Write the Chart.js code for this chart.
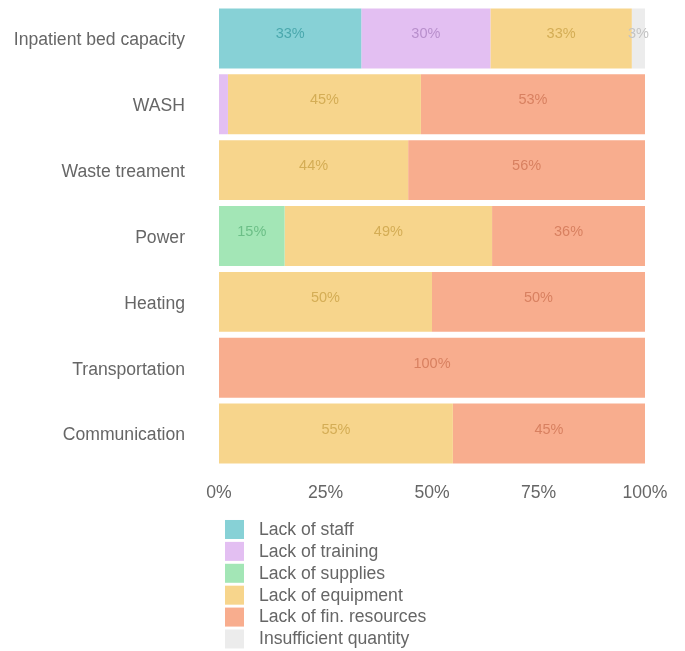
<!DOCTYPE html>
<html>
<head>
<meta charset="utf-8">
<script src="https://cdn.jsdelivr.net/npm/chart.js@4/dist/chart.umd.min.js"></script>
<style>
  html, body { margin: 0; padding: 0; background: #fff; }
  #wrap { width: 685px; height: 651px; }
</style>
</head>
<body>
<div id="wrap"><canvas id="chart"></canvas></div>
<script>
// categories (rows) and tick labels
const categories = ['Inpatient bed capacity', 'WASH', 'Waste treament', 'Power', 'Heating', 'Transportation', 'Communication'];
const xTicks = [0, 25, 50, 75, 100];

// series values, in percent, one per row (labels show them rounded)
const lackOfStaff      = [33.4, 0, 0, 0, 0, 0, 0];
const lackOfTraining   = [30.3, 2.1, 0, 0, 0, 0, 0];
const lackOfSupplies   = [0, 0, 0, 15.4, 0, 0, 0];
const lackOfEquipment  = [33.2, 45.3, 44.4, 48.7, 50, 0, 54.9];
const lackOfFinRes     = [0, 52.6, 55.6, 35.9, 50, 100, 45.1];
const insufficientQty  = [3.1, 0, 0, 0, 0, 0, 0];

const seriesNames = ['Lack of staff', 'Lack of training', 'Lack of supplies', 'Lack of equipment', 'Lack of fin. resources', 'Insufficient quantity'];
const seriesData = [lackOfStaff, lackOfTraining, lackOfSupplies, lackOfEquipment, lackOfFinRes, insufficientQty];
const fillColors = ['#87d1d6', '#e3bff2', '#a3e6b6', '#f7d58c', '#f8ad8e', '#ececec'];
const labelColors = ['#4aa8ad', '#b88fcc', '#6cbf87', '#d4ad55', '#d88060', '#c4c4c4'];

const FONT = '"Liberation Sans", Arial, Helvetica, sans-serif';
const GREY = '#666666';
const TXT = 17.6;

// write the value inside each segment (no datalabels plugin offline)
const segmentLabels = {
  id: 'segmentLabels',
  afterDatasetsDraw(chart) {
    const ctx = chart.ctx;
    ctx.save();
    ctx.font = '14.5px ' + FONT;
    ctx.textAlign = 'center';
    ctx.textBaseline = 'middle';
    chart.data.datasets.forEach((ds, i) => {
      const meta = chart.getDatasetMeta(i);
      meta.data.forEach((bar, j) => {
        const v = ds.data[j];
        if (!v || v < 2.5) return;
        const cx = (bar.x + bar.base) / 2;
        ctx.fillStyle = labelColors[i];
        ctx.fillText(Math.round(v) + '%', cx, bar.y - 4);
      });
    });
    ctx.restore();
  }
};

// vertical legend under the x axis
const listLegend = {
  id: 'listLegend',
  afterDraw(chart) {
    const ctx = chart.ctx;
    const x0 = chart.chartArea.left + 6;
    let y = chart.chartArea.bottom + 53.5;
    ctx.save();
    ctx.font = TXT + 'px ' + FONT;
    ctx.textBaseline = 'middle';
    ctx.textAlign = 'left';
    chart.data.datasets.forEach(ds => {
      ctx.fillStyle = ds.backgroundColor;
      ctx.fillRect(x0, y, 19, 19);
      ctx.fillStyle = GREY;
      ctx.fillText(ds.label, x0 + 34, y + 10);
      y += 21.9;
    });
    ctx.restore();
  }
};

const datasets = seriesNames.map((name, i) => ({
  label: name,
  data: seriesData[i],
  backgroundColor: fillColors[i],
  borderWidth: 0,
  barPercentage: 0.91,
  categoryPercentage: 1.0
}));

new Chart(document.getElementById('chart'), {
  type: 'bar',
  data: { labels: categories, datasets: datasets },
  options: {
    indexAxis: 'y',
    responsive: true,
    maintainAspectRatio: false,
    animation: false,
    layout: { padding: { left: 14, right: 40, top: 5.5, bottom: 147.4 } },
    plugins: {
      legend: { display: false },
      tooltip: { enabled: false }
    },
    scales: {
      x: {
        stacked: true,
        min: 0,
        max: 100,
        afterBuildTicks(scale) { scale.ticks = xTicks.map(v => ({ value: v })); },
        afterFit(scale) { scale.paddingLeft = 0; scale.paddingRight = 0; scale.height = 16 + TXT * 1.2; },
        grid: { display: false, drawTicks: false },
        border: { display: false },
        ticks: {
          padding: 16,
          color: GREY,
          font: { size: TXT, family: FONT },
          callback: v => v + '%'
        }
      },
      y: {
        stacked: true,
        afterFit(scale) { scale.paddingTop = 0; scale.paddingBottom = 0; scale.width = 205; },
        grid: { display: false, drawTicks: false },
        border: { display: false },
        ticks: {
          padding: 34,
          labelOffset: 2,
          color: GREY,
          font: { size: TXT, family: FONT }
        }
      }
    }
  },
  plugins: [segmentLabels, listLegend]
});
</script>
</body>
</html>
